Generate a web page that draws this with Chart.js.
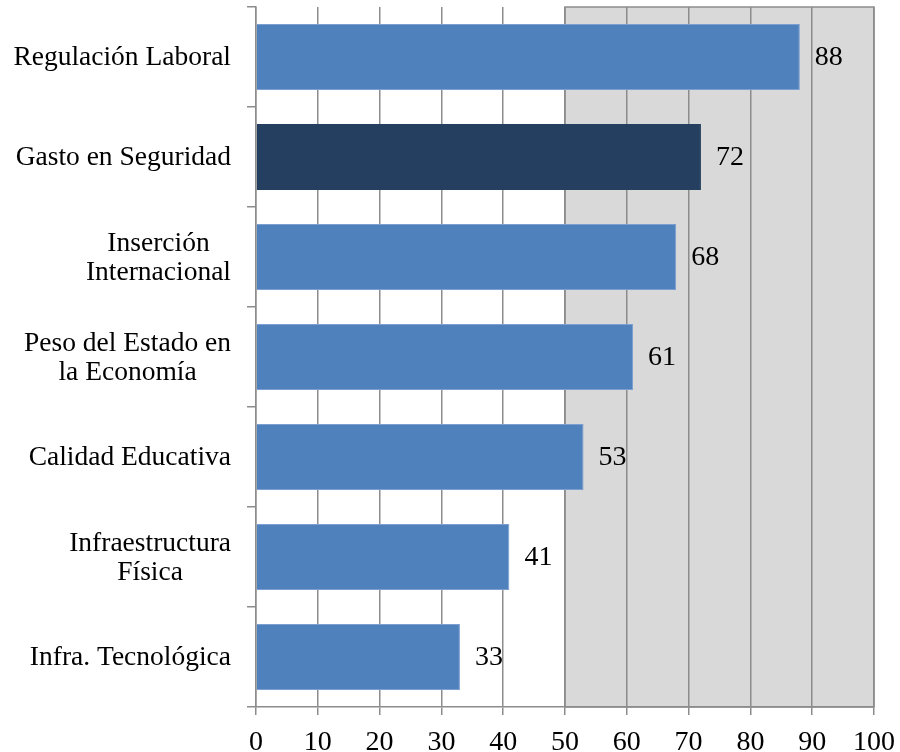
<!DOCTYPE html>
<html>
<head>
<meta charset="utf-8">
<script src="https://cdn.jsdelivr.net/npm/chart.js@4.4.1/dist/chart.umd.min.js"></script>
<style>
html,body{margin:0;padding:0;background:#fff;}
#wrap{width:900px;height:752px;position:relative;}
</style>
</head>
<body>
<div id="wrap"><canvas id="c" width="900" height="752"></canvas></div>
<script>
const categories = [
  ["Regulación Laboral"],
  ["Gasto en Seguridad"],
  ["Inserción", "Internacional"],
  ["Peso del Estado en", "la Economía"],
  ["Calidad Educativa"],
  ["Infraestructura", "Física"],
  ["Infra. Tecnológica"]
];
const values = [88, 72, 68, 61, 53, 41, 33];
const barColors = ["#4F81BD", "#243F60", "#4F81BD", "#4F81BD", "#4F81BD", "#4F81BD", "#4F81BD"];
const shadeRange = [50, 100];
const xTicks = [0, 10, 20, 30, 40, 50, 60, 70, 80, 90, 100];

const FONT = "28px 'Liberation Serif', 'Times New Roman', serif";
const CAT_FONT = "27.5px 'Liberation Serif', 'Times New Roman', serif";
const GRID = "#8C8C8C";

const shadePlugin = {
  id: 'shade',
  beforeDraw(chart) {
    const {ctx, chartArea, scales} = chart;
    const x0 = scales.x.getPixelForValue(shadeRange[0]);
    const x1 = scales.x.getPixelForValue(shadeRange[1]);
    ctx.save();
    ctx.fillStyle = "#D9D9D9";
    ctx.fillRect(x0, chartArea.top, x1 - x0, chartArea.bottom - chartArea.top);
    ctx.strokeStyle = GRID;
    ctx.lineWidth = 1.5;
    ctx.strokeRect(x0, chartArea.top, x1 - x0, chartArea.bottom - chartArea.top);
    ctx.restore();
  }
};

const labelPlugin = {
  id: 'labels',
  afterDatasetsDraw(chart) {
    const {ctx, scales} = chart;
    const meta = chart.getDatasetMeta(0);
    ctx.save();
    ctx.font = FONT;
    ctx.fillStyle = "#000";
    ctx.textBaseline = "middle";
    ctx.textAlign = "left";
    meta.data.forEach((bar, i) => {
      ctx.fillText(String(values[i]), bar.x + 15, bar.y + 1);
    });
    ctx.font = CAT_FONT;
    const right = scales.y.right - 25;
    const lh = 29;
    categories.forEach((lines, i) => {
      const yc = scales.y.getPixelForValue(i);
      const widths = lines.map(l => ctx.measureText(l).width);
      const bw = Math.max(...widths);
      const cx = right - bw / 2;
      ctx.textAlign = "center";
      lines.forEach((l, k) => {
        const y = yc + (k - (lines.length - 1) / 2) * lh + 1;
        ctx.fillText(l, cx, y);
      });
    });
    ctx.restore();
  }
};

new Chart(document.getElementById('c'), {
  type: 'bar',
  data: {
    labels: categories,
    datasets: [{
      data: values,
      backgroundColor: barColors,
      borderColor: barColors.map(c => c === "#4F81BD" ? "#7A9FD0" : c),
      borderWidth: 1,
      barPercentage: 0.66,
      categoryPercentage: 1.0
    }]
  },
  options: {
    indexAxis: 'y',
    responsive: false,
    animation: false,
    devicePixelRatio: 1,
    layout: { padding: { top: 7, right: 26, left: 0, bottom: 0 } },
    plugins: { legend: { display: false }, tooltip: { enabled: false } },
    scales: {
      x: {
        min: 0, max: 100,
        afterBuildTicks(scale) { scale.ticks = xTicks.map(v => ({value: v})); },
        afterFit(scale) { scale.height = 45; scale.paddingRight = 0; scale.paddingLeft = 0; },
        grid: { color: GRID, lineWidth: 1.5, tickLength: 8, drawTicks: true },
        border: { color: GRID, width: 1.5 },
        ticks: { font: { family: "'Liberation Serif', serif", size: 28 }, color: "#000", padding: 11, maxRotation: 0 }
      },
      y: {
        afterFit(scale) { scale.width = 256; scale.paddingTop = 0; scale.paddingBottom = 0; },
        grid: { color: GRID, lineWidth: 1.5, tickLength: 9, drawOnChartArea: false, offset: true },
        border: { color: GRID, width: 1.5 },
        ticks: { display: false }
      }
    }
  },
  plugins: [shadePlugin, labelPlugin]
});
</script>
</body>
</html>
